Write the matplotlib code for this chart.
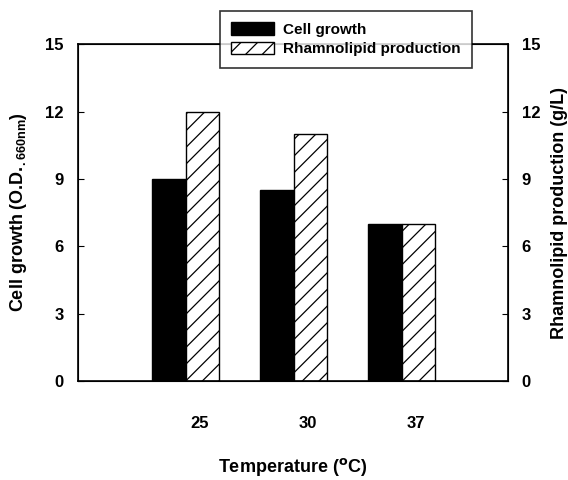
import numpy as np
import matplotlib.pyplot as plt
from matplotlib.patches import Patch

plt.rcParams['font.family'] = ['Liberation Sans', 'DejaVu Sans']
plt.rcParams['font.weight'] = 'bold'
plt.rcParams['hatch.linewidth'] = 0.9

temperatures = ['25', '30', '37']
cell_growth = [9.0, 8.5, 7.0]
rhamnolipid = [12.0, 11.0, 7.0]

fig = plt.figure(figsize=(5.68, 4.8), dpi=100)
ax = fig.add_axes([0.137, 0.206, 0.757, 0.702])

x = np.arange(len(temperatures))
w = 0.31
ax.bar(x - w / 2, cell_growth, w, color='black', edgecolor='black', linewidth=1)
ax.bar(x + w / 2, rhamnolipid, w, color='white', edgecolor='black', hatch='//', linewidth=1)

ax.set_xlim(-1.0, 2.98)
ax.set_ylim(0, 15)
# labels in the original sit slightly right of the bar pairs
ax.set_xticks(x + 0.13)
ax.set_xticklabels(temperatures, fontsize=12, fontweight='bold')
ax.tick_params(axis='x', length=0, pad=25)
ax.set_yticks([0, 3, 6, 9, 12, 15])
ax.tick_params(axis='y', direction='in', length=4, labelsize=12, pad=10)
for s in ax.spines.values():
    s.set_linewidth(1.2)

ax.set_xlabel('Temperature ($^{\\mathrm{o}}$C)', fontsize=13, fontweight='bold', labelpad=18)
ax.set_ylabel('Cell growth (O.D.$_{\\mathdefault{.660nm}}$)', fontsize=13, fontweight='bold', labelpad=12)

ax2 = ax.twinx()
ax2.set_ylim(0, 15)
ax2.set_yticks([0, 3, 6, 9, 12, 15])
ax2.tick_params(axis='y', direction='in', length=4, labelsize=12, pad=10)
ax2.set_ylabel('Rhamnolipid production (g/L)', fontsize=13, fontweight='bold', labelpad=8)
for lab in ax.get_yticklabels() + ax2.get_yticklabels():
    lab.set_fontweight('bold')

handles = [Patch(facecolor='black', edgecolor='black', label='Cell growth'),
           Patch(facecolor='white', edgecolor='black', hatch='//', label='Rhamnolipid production')]
leg = fig.legend(handles=handles, loc='upper left', bbox_to_anchor=(220 / 568, 1 - 11 / 480),
                 frameon=True, fancybox=False, edgecolor='black', fontsize=11,
                 handlelength=2.8, handleheight=0.9, borderpad=0.75, labelspacing=0.3,
                 handletextpad=0.6, borderaxespad=0)
leg.get_frame().set_linewidth(1.2)
leg.set_zorder(10)

fig.savefig('out.png', dpi=100)
